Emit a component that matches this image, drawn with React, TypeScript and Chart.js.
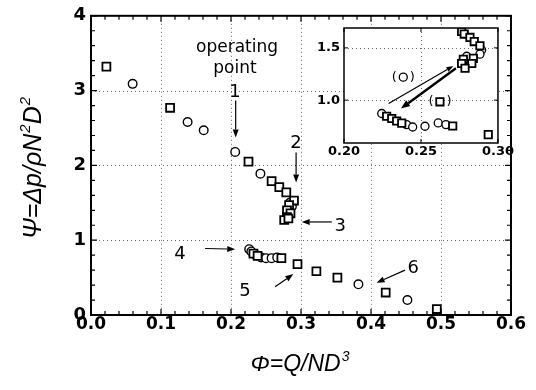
import React, { useEffect, useRef } from 'react';
import { Chart, registerables } from 'chart.js';
Chart.register(...registerables);

// ---------- data ----------
const xTicks = [0, 0.1, 0.2, 0.3, 0.4, 0.5, 0.6];
const yTicks = [0, 1, 2, 3, 4];
const xMinorStep = 0.02;
const yMinorStep = 0.2;

const mainSquares: [number, number][] = [
  [0.022, 3.32], [0.113, 2.77], [0.225, 2.05], [0.258, 1.79], [0.269, 1.71],
  [0.279, 1.64], [0.29, 1.53], [0.283, 1.47], [0.28, 1.4], [0.285, 1.36],
  [0.28, 1.31], [0.276, 1.27], [0.282, 1.29],
  [0.232, 0.82], [0.238, 0.79], [0.272, 0.76],
  [0.295, 0.68], [0.322, 0.585], [0.352, 0.5], [0.421, 0.3], [0.494, 0.08],
];
const mainCircles: [number, number][] = [
  [0.0595, 3.09], [0.138, 2.58], [0.161, 2.47], [0.206, 2.18], [0.242, 1.89],
  [0.287, 1.45], [0.284, 1.5],
  [0.226, 0.88], [0.229, 0.85], [0.236, 0.8], [0.243, 0.77], [0.25, 0.76],
  [0.258, 0.76], [0.266, 0.77],
  [0.382, 0.41], [0.452, 0.2],
];

const insetXTicks = [0.2, 0.25, 0.3];
const insetYTicks = [1.0, 1.5];
const insetSquares: [number, number][] = [
  [0.2764, 1.657], [0.2781, 1.632], [0.2818, 1.6], [0.2846, 1.56], [0.2883, 1.52],
  [0.284, 1.4], [0.2775, 1.39], [0.283, 1.35], [0.2764, 1.35], [0.2786, 1.305],
  [0.2277, 0.846], [0.231, 0.824], [0.2342, 0.8], [0.2375, 0.78], [0.2706, 0.753],
  [0.2937, 0.67],
];
const insetCircles: [number, number][] = [
  [0.2894, 1.48], [0.2883, 1.44], [0.2797, 1.42],
  [0.2245, 0.872], [0.2407, 0.766], [0.2446, 0.743], [0.2526, 0.75],
  [0.2612, 0.782], [0.2662, 0.766],
];
const insetBracketSquares: [number, number][] = [[0.2623, 0.984]];
const insetBracketCircles: [number, number][] = [[0.2385, 1.22]];

const mainTexts = [
  { text: 'operating', x: 0.2086, y: 3.573, size: 17 },
  { text: 'point', x: 0.2057, y: 3.293, size: 17 },
  { text: '1', x: 0.2057, y: 2.973, size: 18 },
  { text: '2', x: 0.293, y: 2.293, size: 18 },
  { text: '3', x: 0.356, y: 1.187, size: 18 },
  { text: '4', x: 0.127, y: 0.813, size: 18 },
  { text: '5', x: 0.22, y: 0.311, size: 18 },
  { text: '6', x: 0.4604, y: 0.623, size: 18 },
];
const mainArrows: [number, number, number, number][] = [
  [0.2067, 2.867, 0.2067, 2.373],
  [0.293, 2.173, 0.293, 1.773],
  [0.344, 1.244, 0.301, 1.244],
  [0.163, 0.889, 0.206, 0.88],
  [0.263, 0.377, 0.289, 0.547],
  [0.4486, 0.6, 0.408, 0.431],
];
const insetArrows: { from: [number, number]; to: [number, number]; w: number }[] = [
  { from: [0.229, 0.968], to: [0.271, 1.327], w: 1.2 },
  { from: [0.2727, 1.305], to: [0.237, 0.92], w: 2.4 },
];

// ---------- helpers ----------
const toPts = (a: [number, number][]) => a.map(([x, y]) => ({ x, y }));

function arrow(ctx: CanvasRenderingContext2D, x1: number, y1: number, x2: number, y2: number, lw: number, hl: number, hw: number) {
  const ang = Math.atan2(y2 - y1, x2 - x1);
  const bx = x2 - Math.cos(ang) * hl;
  const by = y2 - Math.sin(ang) * hl;
  ctx.save();
  ctx.strokeStyle = '#000';
  ctx.fillStyle = '#000';
  ctx.lineWidth = lw;
  ctx.setLineDash([]);
  ctx.beginPath();
  ctx.moveTo(x1, y1);
  ctx.lineTo(bx, by);
  ctx.stroke();
  ctx.beginPath();
  ctx.moveTo(x2, y2);
  ctx.lineTo(bx + Math.sin(ang) * hw, by - Math.cos(ang) * hw);
  ctx.lineTo(bx - Math.sin(ang) * hw, by + Math.cos(ang) * hw);
  ctx.closePath();
  ctx.fill();
  ctx.restore();
}

type Part = { t: string; sup?: boolean };
function richText(ctx: CanvasRenderingContext2D, parts: Part[], cx: number, baseY: number, size: number) {
  const fam = '"Liberation Sans", Arial, sans-serif';
  const mf = `italic ${size}px ${fam}`;
  const sf = `italic ${Math.round(size * 0.6)}px ${fam}`;
  let w = 0;
  for (const p of parts) { ctx.font = p.sup ? sf : mf; w += ctx.measureText(p.t).width + (p.sup ? 1 : 0); }
  let x = cx - w / 2;
  ctx.textAlign = 'left';
  ctx.textBaseline = 'alphabetic';
  ctx.fillStyle = '#000';
  for (const p of parts) {
    ctx.font = p.sup ? sf : mf;
    ctx.fillText(p.t, x + (p.sup ? 1 : 0), p.sup ? baseY - size * 0.45 : baseY);
    x += ctx.measureText(p.t).width + (p.sup ? 1 : 0);
  }
}

function drawTicksAll(ctx: CanvasRenderingContext2D, chart: any, xs: number[], ys: number[], xMinor: number[], yMinor: number[], maj: number, min: number, lw: number) {
  const a = chart.chartArea;
  const sx = chart.scales.x, sy = chart.scales.y;
  ctx.save();
  ctx.strokeStyle = '#000';
  ctx.lineWidth = lw;
  ctx.setLineDash([]);
  ctx.beginPath();
  const doX = (v: number, len: number) => {
    const p = sx.getPixelForValue(v);
    ctx.moveTo(p, a.bottom); ctx.lineTo(p, a.bottom - len);
    ctx.moveTo(p, a.top); ctx.lineTo(p, a.top + len);
  };
  const doY = (v: number, len: number) => {
    const p = sy.getPixelForValue(v);
    ctx.moveTo(a.left, p); ctx.lineTo(a.left + len, p);
    ctx.moveTo(a.right, p); ctx.lineTo(a.right - len, p);
  };
  xMinor.forEach((v) => doX(v, min));
  yMinor.forEach((v) => doY(v, min));
  xs.forEach((v) => doX(v, maj));
  ys.forEach((v) => doY(v, maj));
  ctx.stroke();
  ctx.restore();
}

function gridLines(ctx: CanvasRenderingContext2D, chart: any, xs: number[], ys: number[]) {
  const a = chart.chartArea;
  const sx = chart.scales.x, sy = chart.scales.y;
  ctx.save();
  ctx.strokeStyle = '#6a6a6a';
  ctx.lineWidth = 1;
  ctx.setLineDash([1, 3]);
  ctx.beginPath();
  xs.forEach((v) => {
    const p = Math.round(sx.getPixelForValue(v)) + 0.5;
    if (p <= a.left + 2 || p >= a.right - 2) return;
    ctx.moveTo(p, a.top); ctx.lineTo(p, a.bottom);
  });
  ys.forEach((v) => {
    const p = Math.round(sy.getPixelForValue(v)) + 0.5;
    if (p <= a.top + 2 || p >= a.bottom - 2) return;
    ctx.moveTo(a.left, p); ctx.lineTo(a.right, p);
  });
  ctx.stroke();
  ctx.restore();
}

const minorList = (lo: number, hi: number, step: number) => {
  const n = Math.round((hi - lo) / step);
  const out: number[] = [];
  for (let i = 0; i <= n; i++) out.push(lo + i * step);
  return out;
};

const tickFont = { family: '"DejaVu Sans", sans-serif', weight: 'bold' as const, size: 17 };

export default function App() {
  const mainRef = useRef<HTMLCanvasElement>(null);
  const insetRef = useRef<HTMLCanvasElement>(null);

  useEffect(() => {
    const decor = {
      id: 'mainDecor',
      beforeDatasetsDraw(chart: any) {
        gridLines(chart.ctx, chart, xTicks, yTicks);
      },
      afterDatasetsDraw(chart: any) {
        const ctx = chart.ctx as CanvasRenderingContext2D;
        const a = chart.chartArea;
        const sx = chart.scales.x, sy = chart.scales.y;
        drawTicksAll(ctx, chart, xTicks, yTicks, minorList(0, 0.6, xMinorStep), minorList(0, 4, yMinorStep), 6, 4, 1.2);
        ctx.save();
        ctx.strokeStyle = '#000';
        ctx.lineWidth = 2;
        ctx.strokeRect(a.left, a.top, a.right - a.left, a.bottom - a.top);
        ctx.restore();
        // annotations
        ctx.save();
        ctx.fillStyle = '#000';
        ctx.textAlign = 'center';
        ctx.textBaseline = 'middle';
        for (const t of mainTexts) {
          ctx.font = `${t.size}px "DejaVu Sans", sans-serif`;
          ctx.fillText(t.text, sx.getPixelForValue(t.x), sy.getPixelForValue(t.y));
        }
        ctx.restore();
        for (const [x1, y1, x2, y2] of mainArrows) {
          arrow(ctx, sx.getPixelForValue(x1), sy.getPixelForValue(y1), sx.getPixelForValue(x2), sy.getPixelForValue(y2), 1.2, 8, 3);
        }
      },
      afterDraw(chart: any) {
        const ctx = chart.ctx as CanvasRenderingContext2D;
        ctx.save();
        richText(ctx, [{ t: 'Φ=Q/ND' }, { t: '3', sup: true }], 300, 371, 23);
        ctx.translate(41, 168);
        ctx.rotate(-Math.PI / 2);
        richText(ctx, [{ t: 'Ψ=Δp/ρN' }, { t: '2', sup: true }, { t: 'D' }, { t: '2', sup: true }], 0, 0, 25);
        ctx.restore();
      },
    };

    const main = new Chart(mainRef.current!, {
      type: 'scatter',
      data: {
        datasets: [
          { data: toPts(mainSquares), pointStyle: 'rect', pointRadius: 5.6, borderColor: '#000', backgroundColor: '#fff', borderWidth: 1.8 },
          { data: toPts(mainCircles), pointStyle: 'circle', pointRadius: 4.3, borderColor: '#000', backgroundColor: '#fff', borderWidth: 1.4 },
        ],
      },
      options: {
        animation: false,
        responsive: false,
        devicePixelRatio: 1,
        layout: { padding: { left: 0, top: 15, right: 25, bottom: 0 } },
        plugins: { legend: { display: false }, tooltip: { enabled: false } },
        scales: {
          x: {
            type: 'linear', min: 0, max: 0.6,
            afterBuildTicks: (s: any) => { s.ticks = xTicks.map((v) => ({ value: v })); },
            afterFit: (s: any) => { s.height = 75; },
            ticks: { callback: (v: any) => Number(v).toFixed(1), font: tickFont, color: '#000', padding: -1, maxRotation: 0, autoSkip: false },
            grid: { display: false, drawTicks: false },
            border: { display: false },
          },
          y: {
            type: 'linear', min: 0, max: 4,
            afterBuildTicks: (s: any) => { s.ticks = yTicks.map((v) => ({ value: v })); },
            afterFit: (s: any) => { s.width = 91; },
            ticks: { callback: (v: any) => String(v), font: { ...tickFont, size: 18 }, color: '#000', padding: 5, autoSkip: false },
            grid: { display: false, drawTicks: false },
            border: { display: false },
          },
        },
      },
      plugins: [decor],
    });

    const insetDecor = {
      id: 'insetDecor',
      beforeDraw(chart: any) {
        const ctx = chart.ctx as CanvasRenderingContext2D;
        const a = chart.chartArea;
        ctx.save();
        ctx.fillStyle = '#fff';
        ctx.fillRect(a.left, a.top, a.right - a.left, a.bottom - a.top);
        ctx.restore();
      },
      beforeDatasetsDraw(chart: any) {
        gridLines(chart.ctx, chart, insetXTicks, insetYTicks);
      },
      afterDatasetsDraw(chart: any) {
        const ctx = chart.ctx as CanvasRenderingContext2D;
        const a = chart.chartArea;
        const sx = chart.scales.x, sy = chart.scales.y;
        drawTicksAll(ctx, chart, insetXTicks, insetYTicks, [], [], 4, 3, 1);
        ctx.save();
        ctx.strokeStyle = '#000';
        ctx.lineWidth = 1.5;
        ctx.strokeRect(a.left, a.top, a.right - a.left, a.bottom - a.top);
        ctx.fillStyle = '#000';
        ctx.font = '13px "DejaVu Sans", sans-serif';
        ctx.textAlign = 'center';
        ctx.textBaseline = 'middle';
        for (const [x, y] of [...insetBracketSquares, ...insetBracketCircles]) {
          const px = sx.getPixelForValue(x), py = sy.getPixelForValue(y);
          ctx.fillText('(', px - 9, py);
          ctx.fillText(')', px + 9, py);
        }
        ctx.restore();
        for (const ar of insetArrows) {
          arrow(ctx, sx.getPixelForValue(ar.from[0]), sy.getPixelForValue(ar.from[1]), sx.getPixelForValue(ar.to[0]), sy.getPixelForValue(ar.to[1]), ar.w, ar.w > 2 ? 9 : 7, ar.w > 2 ? 3.5 : 2.5);
        }
      },
    };

    const insetTickFont = { family: '"DejaVu Sans", sans-serif', weight: 'bold' as const, size: 13 };
    const inset = new Chart(insetRef.current!, {
      type: 'scatter',
      data: {
        datasets: [
          { data: toPts([...insetSquares, ...insetBracketSquares]), pointStyle: 'rect', pointRadius: 5.2, borderColor: '#000', backgroundColor: '#fff', borderWidth: 1.8 },
          { data: toPts([...insetCircles, ...insetBracketCircles]), pointStyle: 'circle', pointRadius: 4, borderColor: '#000', backgroundColor: '#fff', borderWidth: 1.3 },
        ],
      },
      options: {
        animation: false,
        responsive: false,
        devicePixelRatio: 1,
        layout: { padding: { left: 0, top: 13, right: 17, bottom: 0 } },
        plugins: { legend: { display: false }, tooltip: { enabled: false } },
        scales: {
          x: {
            type: 'linear', min: 0.2, max: 0.3,
            afterBuildTicks: (s: any) => { s.ticks = insetXTicks.map((v) => ({ value: v })); },
            afterFit: (s: any) => { s.height = 22; },
            ticks: { callback: (v: any) => Number(v).toFixed(2), font: insetTickFont, color: '#000', padding: 1, maxRotation: 0, autoSkip: false },
            grid: { display: false, drawTicks: false },
            border: { display: false },
          },
          y: {
            type: 'linear', min: 0.59, max: 1.69,
            afterBuildTicks: (s: any) => { s.ticks = insetYTicks.map((v) => ({ value: v })); },
            afterFit: (s: any) => { s.width = 44; },
            ticks: { callback: (v: any) => Number(v).toFixed(1), font: insetTickFont, color: '#000', padding: 4, autoSkip: false },
            grid: { display: false, drawTicks: false },
            border: { display: false },
          },
        },
      },
      plugins: [insetDecor],
    });

    return () => { main.destroy(); inset.destroy(); };
  }, []);

  return (
    <div style={{ position: 'fixed', left: 0, top: 0, width: 536, height: 390, background: '#fff' }}>
      <canvas ref={mainRef} width={536} height={390} style={{ position: 'absolute', left: 0, top: 0 }} />
      <canvas ref={insetRef} width={215} height={150} style={{ position: 'absolute', left: 300, top: 15 }} />
    </div>
  );
}
